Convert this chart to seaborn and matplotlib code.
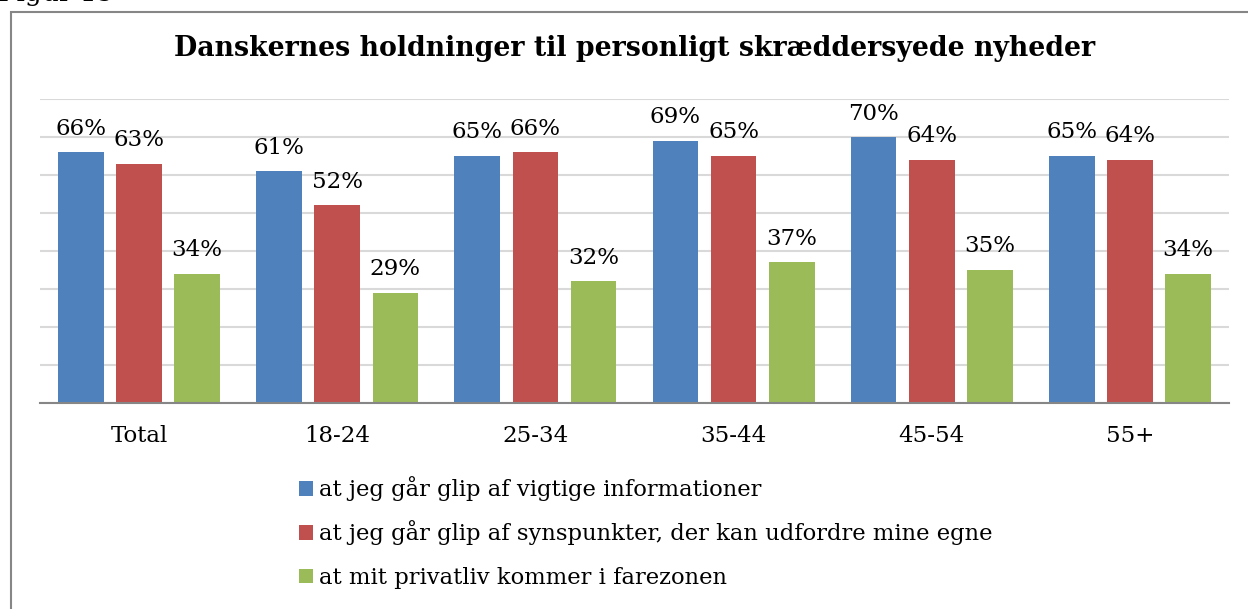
import pandas as pd
import matplotlib
matplotlib.use("Agg")
import matplotlib.pyplot as plt
import seaborn as sns
from matplotlib.patches import Rectangle

categories = ["Total", "18-24", "25-34", "35-44", "45-54", "55+"]
series_names = ["at jeg går glip af vigtige informationer",
                "at jeg går glip af synspunkter, der kan udfordre mine egne",
                "at mit privatliv kommer i farezonen"]
info = [66, 61, 65, 69, 70, 65]
views = [63, 52, 66, 65, 64, 64]
privacy = [34, 29, 32, 37, 35, 34]
colors = ["#4F81BD", "#C0504D", "#9BBB59"]

rows = []
for name, vals in zip(series_names, [info, views, privacy]):
    for cat, v in zip(categories, vals):
        rows.append({"group": cat, "serie": name, "pct": v})
df = pd.DataFrame(rows)

sns.set_style("white")
plt.rcParams["font.family"] = ["DejaVu Serif"]
plt.rcParams["text.color"] = "black"
plt.rcParams["xtick.color"] = "black"

fig = plt.figure(figsize=(12.48, 6.09), dpi=100)
ax = fig.add_axes([40 / 1248, 1 - 403 / 609, 1189 / 1248, 304 / 609])

sns.barplot(data=df, x="group", y="pct", hue="serie", order=categories,
            hue_order=series_names, palette=colors, width=0.88, gap=0.215,
            saturation=1, edgecolor="none", ax=ax)

for cont in ax.containers:
    ax.bar_label(cont, labels=[f"{v:.0f}%" for v in cont.datavalues],
                 padding=9, fontsize=16.5, color="black")

ax.set_xlim(-0.5, 5.5)
ax.set_ylim(0, 80)
ax.set_yticks(range(0, 81, 10))
ax.yaxis.grid(True, color="#d9d9d9", linewidth=1.5)
ax.set_axisbelow(True)
ax.tick_params(axis="y", left=False, labelleft=False)
ax.set_xlabel("")
ax.set_ylabel("")
for side in ["left", "right", "top"]:
    ax.spines[side].set_visible(False)
ax.spines["bottom"].set_color("#868686")
ax.spines["bottom"].set_linewidth(1.5)
ax.set_xticks(range(len(categories)))
ax.set_xticklabels(categories, fontsize=16.5, color="black")
ax.tick_params(axis="x", which="major", length=0, pad=16)
ax.set_xticks([i - 0.5 for i in range(len(categories) + 1)], minor=True)
ax.tick_params(axis="x", which="minor", direction="inout", length=11,
               width=1.5, color="#868686")

# legend: one entry per row so the rows are evenly spaced
handles, labels = ax.get_legend_handles_labels()
ax.legend_.remove()
for h, lab, ypix in zip(handles, labels, [489, 533, 578]):
    fig.legend([h], [lab], loc="center left",
               bbox_to_anchor=(299 / 1248, 1 - ypix / 609),
               frameon=False, fontsize=16.3, handlelength=0.62,
               handleheight=0.62, handletextpad=0.25, borderpad=0,
               borderaxespad=0, labelcolor="black")

fig.text(635 / 1248, 1 - 48 / 609, "Danskernes holdninger til personligt skræddersyede nyheder",
         ha="center", va="center", fontsize=19.3, fontweight="bold", color="black")

fig.text(-0.002, 1 - 1.5 / 609, "Figur 15", ha="left", va="baseline", fontsize=19, color="black")

fig.patches.append(Rectangle((11 / 1248, -0.05), 1.1, 1 - 12 / 609 + 0.05,
                             transform=fig.transFigure, fill=False,
                             edgecolor="#868686", linewidth=1.5))

fig.savefig("out.png", dpi=100)
